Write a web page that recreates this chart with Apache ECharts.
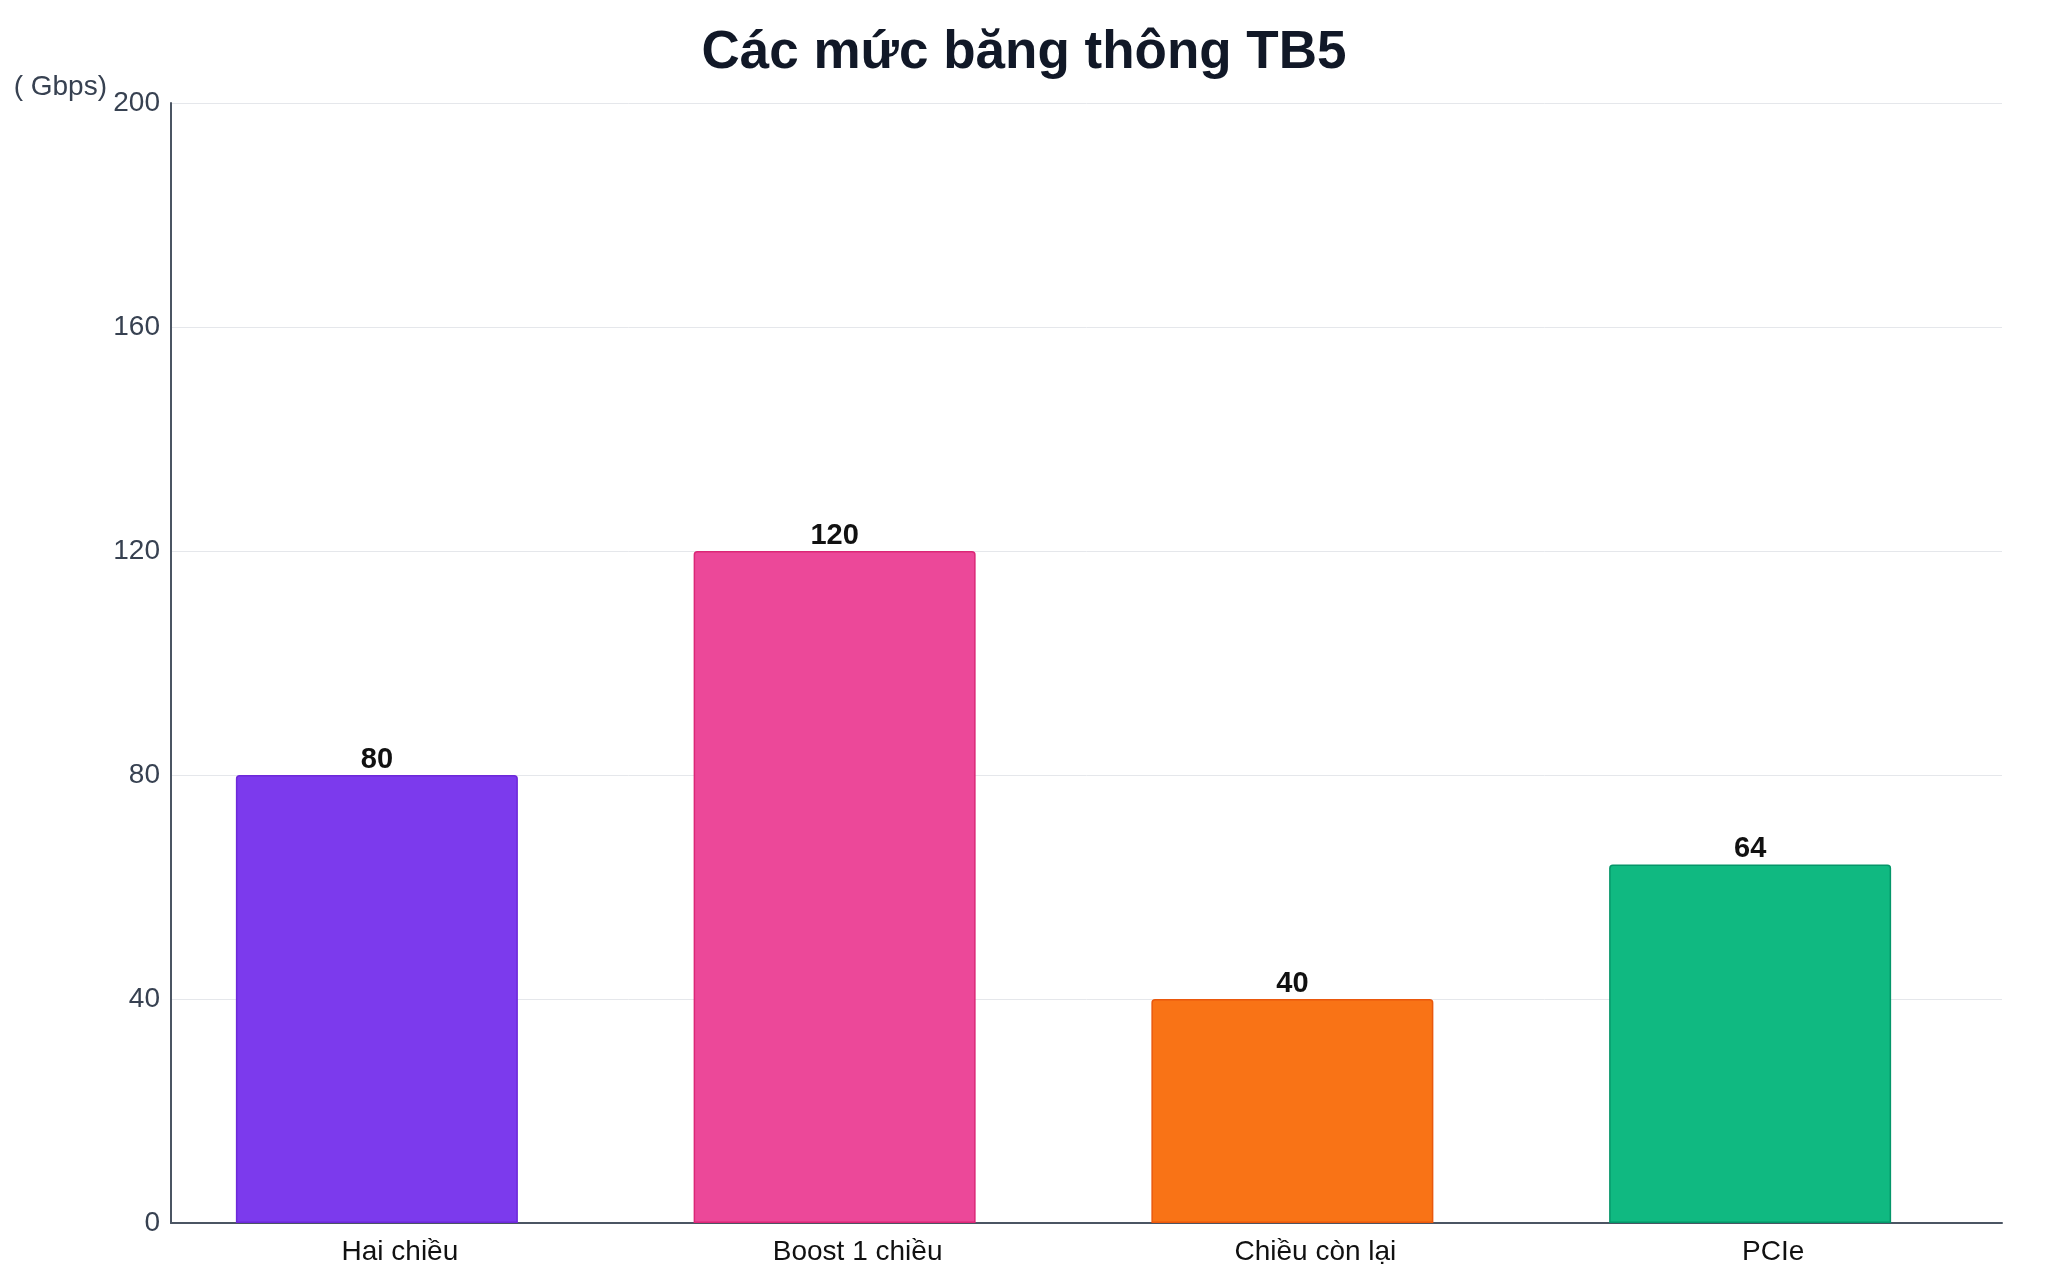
<!DOCTYPE html>
<html>
<head>
<meta charset="utf-8">
<style>
html,body{margin:0;padding:0;background:#fff;}
#chart{width:2048px;height:1280px;}
</style>
<script src="https://cdn.jsdelivr.net/npm/echarts@6/dist/echarts.min.js"></script>
</head>
<body>
<div id="chart"></div>
<script>
const categories = ['Hai chiều', 'Boost 1 chiều', 'Chiều còn lại', 'PCIe'];
const values = [80, 120, 40, 64];
const barColors = ['#7C3AED', '#EC4899', '#F97316', '#10B981'];
const borderColors = ['#6D28D9', '#DB2777', '#EA580C', '#059669'];
const yTicks = [0, 40, 80, 120, 160, 200];

const FONT = '"Liberation Sans", Arial, sans-serif';
const chart = echarts.init(document.getElementById('chart'));
chart.setOption({
  backgroundColor: '#ffffff',
  animation: false,
  title: {
    text: 'Các mức băng thông TB5',
    left: 'center',
    top: 22,
    textStyle: { fontFamily: FONT, fontSize: 53, fontWeight: 'bold', color: '#111827' }
  },
  grid: { left: 171, right: 46, top: 103, bottom: 57, containLabel: false },
  xAxis: {
    type: 'category',
    data: categories,
    axisLine: { show: true, lineStyle: { color: '#4B5563', width: 2 } },
    axisTick: { show: false },
    axisLabel: { fontFamily: FONT, fontSize: 28, color: '#111111', margin: 15 },
    splitLine: { show: false }
  },
  yAxis: {
    type: 'value',
    min: yTicks[0],
    max: yTicks[yTicks.length - 1],
    interval: yTicks[1] - yTicks[0],
    name: '( Gbps)',
    nameLocation: 'end',
    nameGap: 16,
    nameTextStyle: { fontFamily: FONT, fontSize: 28, color: '#374151', align: 'right', verticalAlign: 'middle', padding: [0, 64, 0, 0] },
    axisLine: { show: true, lineStyle: { color: '#4B5563', width: 2 } },
    axisTick: { show: false },
    axisLabel: { fontFamily: FONT, fontSize: 28, color: '#374151', margin: 11 },
    splitLine: { show: true, lineStyle: { color: '#E5E7EB', width: 1 } }
  },
  series: [
    {
      type: 'bar',
      barWidth: 282,
      barGap: 0,
      data: values.map((v, i) => ({
        value: v,
        itemStyle: { color: barColors[i], borderColor: borderColors[i], borderWidth: 1.5, borderRadius: [3, 3, 0, 0] }
      })),
      label: {
        show: true,
        position: 'top',
        distance: 1,
        fontFamily: FONT,
        fontSize: 29,
        fontWeight: 'bold',
        color: '#111111'
      },
      z: 3
    },
    {
      type: 'bar',
      barWidth: 46,
      data: categories.map(() => '-'),
      silent: true
    }
  ]
});
</script>
</body>
</html>
